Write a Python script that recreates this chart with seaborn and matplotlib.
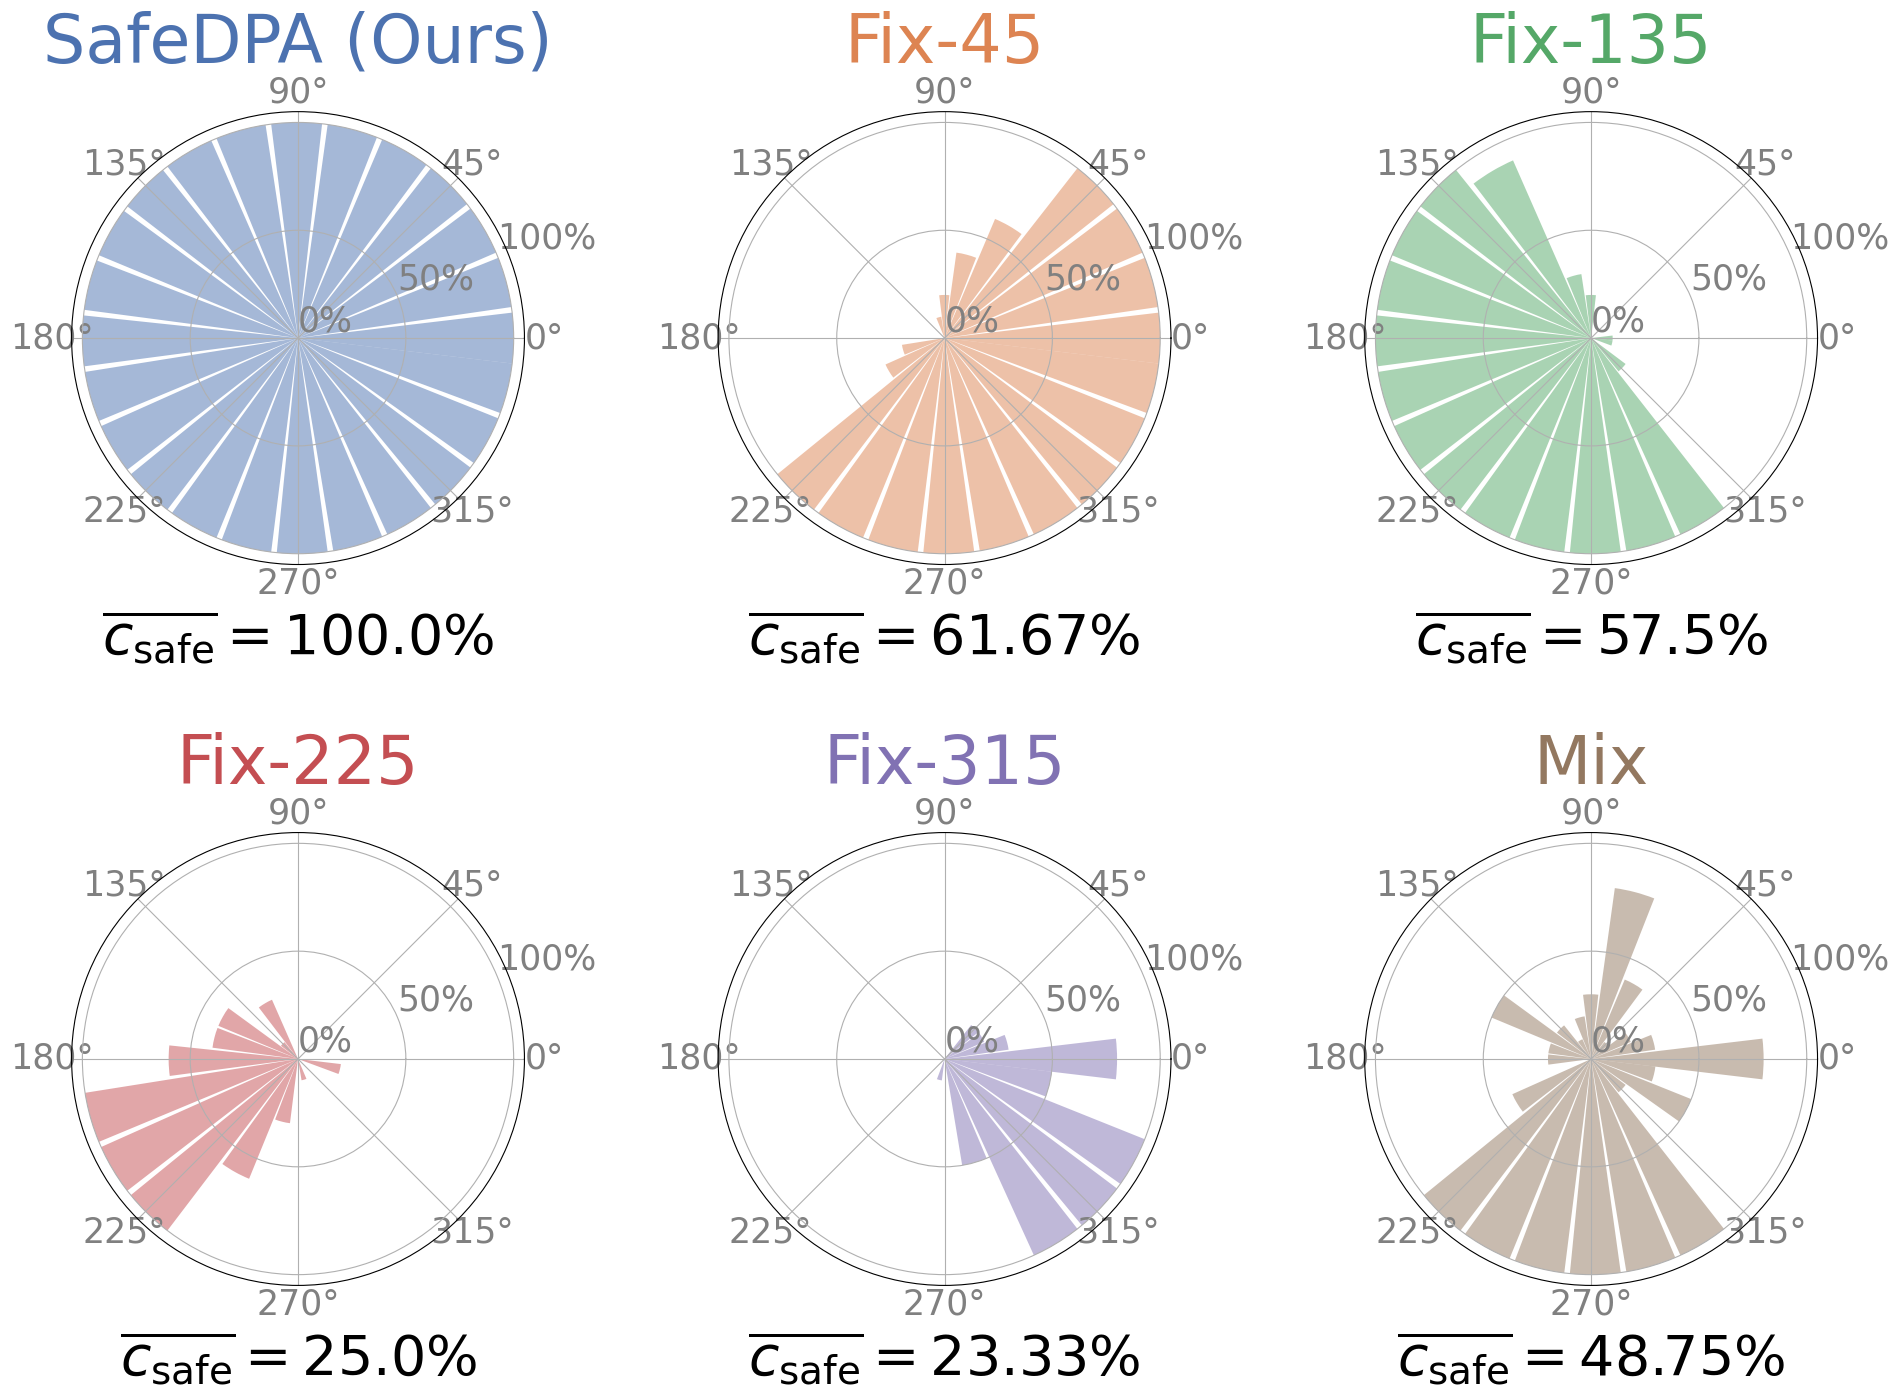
import numpy as np
import matplotlib
matplotlib.use("Agg")
import matplotlib.pyplot as plt
import seaborn as sns

# wind directions (deg) and the share of safe episodes per direction (%)
directions = [0, 15, 30, 45, 60, 75, 90, 105, 120, 135, 150, 165,
              180, 195, 210, 225, 240, 255, 270, 285, 300, 315, 330, 345]

safedpa = [100, 100, 100, 100, 100, 100, 100, 100, 100, 100, 100, 100,
           100, 100, 100, 100, 100, 100, 100, 100, 100, 100, 100, 100]
fix_45 = [100, 100, 100, 100, 60, 40, 20, 10, 0, 0, 0, 0,
          0, 20, 30, 100, 100, 100, 100, 100, 100, 100, 100, 100]
fix_135 = [10, 0, 0, 0, 0, 0, 20, 30, 90, 100, 100, 100,
           100, 100, 100, 100, 100, 100, 100, 100, 100, 20, 0, 10]
fix_225 = [0, 0, 0, 0, 0, 0, 0, 0, 30, 10, 40, 40,
           60, 100, 100, 100, 60, 30, 0, 10, 0, 0, 0, 20]
fix_315 = [80, 30, 20, 20, 0, 0, 0, 0, 0, 0, 0, 0,
           0, 0, 0, 0, 0, 10, 0, 50, 100, 100, 100, 50]
mix = [80, 30, 20, 10, 40, 80, 30, 20, 10, 20, 50, 20,
       20, 0, 40, 100, 100, 100, 100, 100, 100, 20, 50, 30]

methods = ["SafeDPA (Ours)", "Fix-45", "Fix-135", "Fix-225", "Fix-315", "Mix"]
results = [safedpa, fix_45, fix_135, fix_225, fix_315, mix]

palette = sns.color_palette("deep")

# small angular gap between bars; the ring is stretched so first and last bar meet
gap = np.deg2rad(1.5)
n = len(directions)
stretch = (2 * np.pi + gap) / (2 * np.pi)
theta = np.deg2rad(directions) * stretch
width = 2 * np.pi * stretch / n - gap

fig, axes = plt.subplots(2, 3, figsize=(18.99, 13.94), subplot_kw={"projection": "polar"})
fig.subplots_adjust(left=0.0377, right=0.9571, bottom=0.0778, top=0.92,
                    wspace=0.4277, hspace=0.591)

for ax, name, vals, color in zip(axes.flat, methods, results, palette):
    ax.bar(theta, vals, width=width, color=color, alpha=0.5, linewidth=0)
    ax.set_ylim(0, 105)
    ax.set_yticks([0, 50, 100])
    ax.set_yticklabels(["0%", "50%", "100%"])
    ax.tick_params(labelsize=25, labelcolor="gray")
    ax.set_title(name, color=color, fontsize=48, y=1.108, pad=0)

    mean_safe = round(float(np.mean(vals)), 2)
    ax.text(0.5, -0.198, r"$\overline{c_{\mathrm{safe}}} = " + f"{mean_safe}" + r"\%$",
            transform=ax.transAxes, ha="center", va="baseline", fontsize=40)

fig.savefig("out.png", dpi=100)
